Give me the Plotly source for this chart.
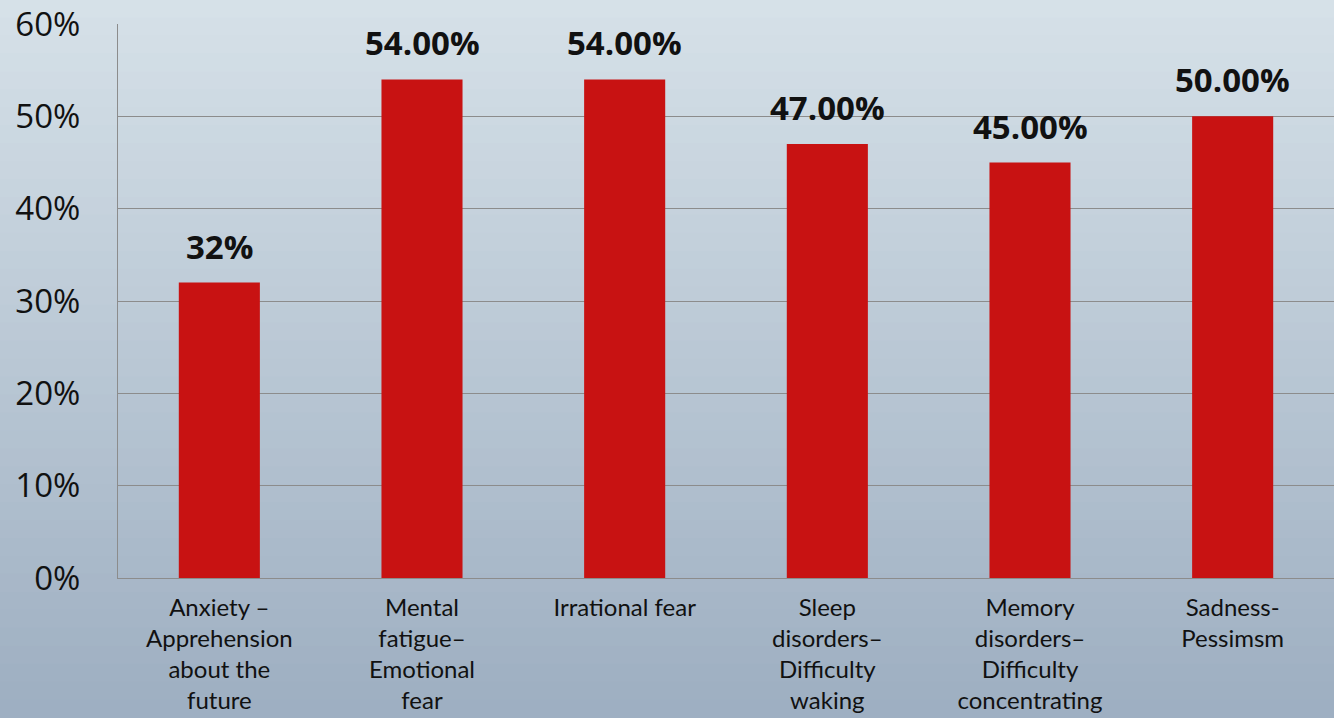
import plotly.graph_objects as go

categories = [
    "Anxiety –<br>Apprehension<br>about the<br>future",
    "Mental<br>fatigue–<br>Emotional<br>fear",
    "Irrational fear",
    "Sleep<br>disorders–<br>Difficulty<br>waking",
    "Memory<br>disorders–<br>Difficulty<br>concentrating",
    "Sadness-<br>Pessimsm",
]
values = [0.32, 0.54, 0.54, 0.47, 0.45, 0.50]
labels = ["32%", "54.00%", "54.00%", "47.00%", "45.00%", "50.00%"]
tick_vals = [0, 0.1, 0.2, 0.3, 0.4, 0.5, 0.6]
tick_text = ["0%", "10%", "20%", "30%", "40%", "50%", "60%"]

W, H = 1334, 718
ML, MR, MT, MB = 118, 0, 24, 140
pw, ph = W - ML - MR, H - MT - MB

fig = go.Figure(go.Bar(
    x=categories, y=values,
    marker=dict(color="#c81212", line=dict(width=0)),
    width=0.4,
))

annotations = [
    dict(x=c, y=v, xref="x", yref="y", text=t, showarrow=False,
         yanchor="bottom", yshift=12,
         font=dict(family="Open Sans", size=33, color="#111111", weight="bold"))
    for c, v, t in zip(categories, values, labels)
]

# gradient background bands
top = (214, 225, 232)
bot = (158, 175, 194)
n = 40
shapes = []
y_lo = -MB / ph
y_hi = 1 + MT / ph
for i in range(n):
    t = i / (n - 1)
    c = tuple(int(top[k] + (bot[k] - top[k]) * t) for k in range(3))
    y1 = y_hi - (y_hi - y_lo) * i / n
    y0 = y_hi - (y_hi - y_lo) * (i + 1) / n
    shapes.append(dict(type="rect", xref="paper", yref="paper",
                       x0=-ML / pw - 0.01, x1=1 + MR / pw + 0.01, y0=y0 - 0.002, y1=y1 + 0.001,
                       fillcolor="rgb(%d,%d,%d)" % c, line=dict(width=0), layer="below"))

fig.update_layout(
    width=W, height=H,
    margin=dict(l=ML, r=MR, t=MT, b=MB),
    paper_bgcolor="rgb(190,203,215)",
    plot_bgcolor="rgba(0,0,0,0)",
    shapes=shapes,
    annotations=annotations,
    showlegend=False,
    font=dict(family="Open Sans", color="#111111"),
    xaxis=dict(
        showgrid=False, showline=True, linecolor="#8c8c8c", linewidth=1,
        tickfont=dict(family="Lato", size=24, color="#111111"),
        ticks="", ticklabelstandoff=8,
    ),
    yaxis=dict(
        range=[0, 0.6], tickvals=tick_vals, ticktext=tick_text,
        showgrid=True, gridcolor="#8c8c8c", gridwidth=1,
        showline=True, linecolor="#8c8c8c", linewidth=1, mirror=False,
        tickfont=dict(family="Open Sans", size=33, color="#111111"),
        ticks="", zeroline=False, ticklabelstandoff=30,
    ),
)

fig.write_html("out.html", config={"displayModeBar": False},
               post_script="document.body.style.margin='0';document.body.style.overflow='hidden';")
